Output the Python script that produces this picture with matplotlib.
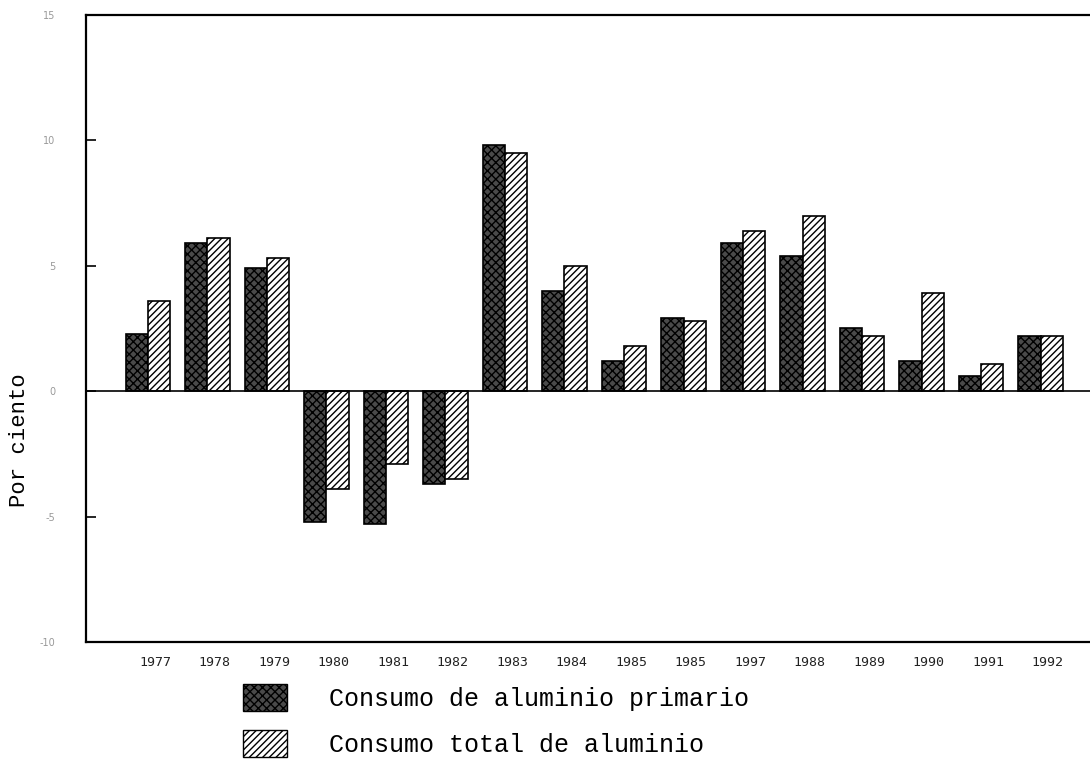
import matplotlib
matplotlib.use("Agg")
import matplotlib.pyplot as plt
from matplotlib.patches import Patch
import numpy as np

years = ["1977", "1978", "1979", "1980", "1981", "1982", "1983", "1984",
         "1985", "1985", "1997", "1988", "1989", "1990", "1991", "1992"]
primario = [2.3, 5.9, 4.9, -5.2, -5.3, -3.7, 9.8, 4.0,
            1.2, 2.9, 5.9, 5.4, 2.5, 1.2, 0.6, 2.2]
total = [3.6, 6.1, 5.3, -3.9, -2.9, -3.5, 9.5, 5.0,
         1.8, 2.8, 6.4, 7.0, 2.2, 3.9, 1.1, 2.2]
yticks = [-10, -5, 0, 5, 10, 15]
ylabels = ["-10", "-5", "0", "5", "10", "15"]
label_primario = "Consumo de aluminio primario"
label_total = "Consumo total de aluminio"

plt.rcParams['hatch.linewidth'] = 1.0
fig = plt.figure(figsize=(10.9, 7.73), dpi=100)
ax = fig.add_axes([86/1090, 131/773, 1 - 86/1090, (642-15)/773])

x = np.arange(len(years))
w = 0.375
ax.bar(x - w/2, primario, w, facecolor='#4a4a4a', edgecolor='black',
       hatch='xxxx', linewidth=1.2)
ax.bar(x + w/2, total, w, facecolor='white', edgecolor='black',
       hatch='/////', linewidth=1.2)
ax.axhline(0, color='black', lw=1.2)

ax.set_xlim(-1.04, 15.83)
ax.set_ylim(-10, 15)
ax.set_yticks(yticks)
ax.set_yticklabels(ylabels, fontsize=7, color='#999999')
ax.tick_params(axis='y', direction='in', length=7, width=1.2, pad=22)
ax.set_xticks(x + 0.12)
ax.set_xticklabels(years, fontsize=9.5, color='#222222',
                   family='DejaVu Sans Mono')
ax.tick_params(axis='x', length=0, pad=10)
for s in ['left', 'top', 'bottom']:
    ax.spines[s].set_linewidth(1.6)
ax.spines['right'].set_visible(False)

fig.text(20/1090, 1 - 440/773, "Por ciento", rotation=90, fontsize=16,
         family='Liberation Mono', va='center', ha='center')

handles = [Patch(facecolor='#4a4a4a', edgecolor='black', hatch='xxxx'),
           Patch(facecolor='white', edgecolor='black', hatch='/////')]
fig.legend(handles, [label_primario, label_total], loc='upper left',
           bbox_to_anchor=(243/1090, 1 - 684/773), frameon=False,
           prop={'family': 'Liberation Mono', 'size': 18},
           handlelength=1.75, handleheight=1.3, handletextpad=1.7,
           labelspacing=0.75, borderpad=0, borderaxespad=0)

fig.savefig("out.png", dpi=100)
